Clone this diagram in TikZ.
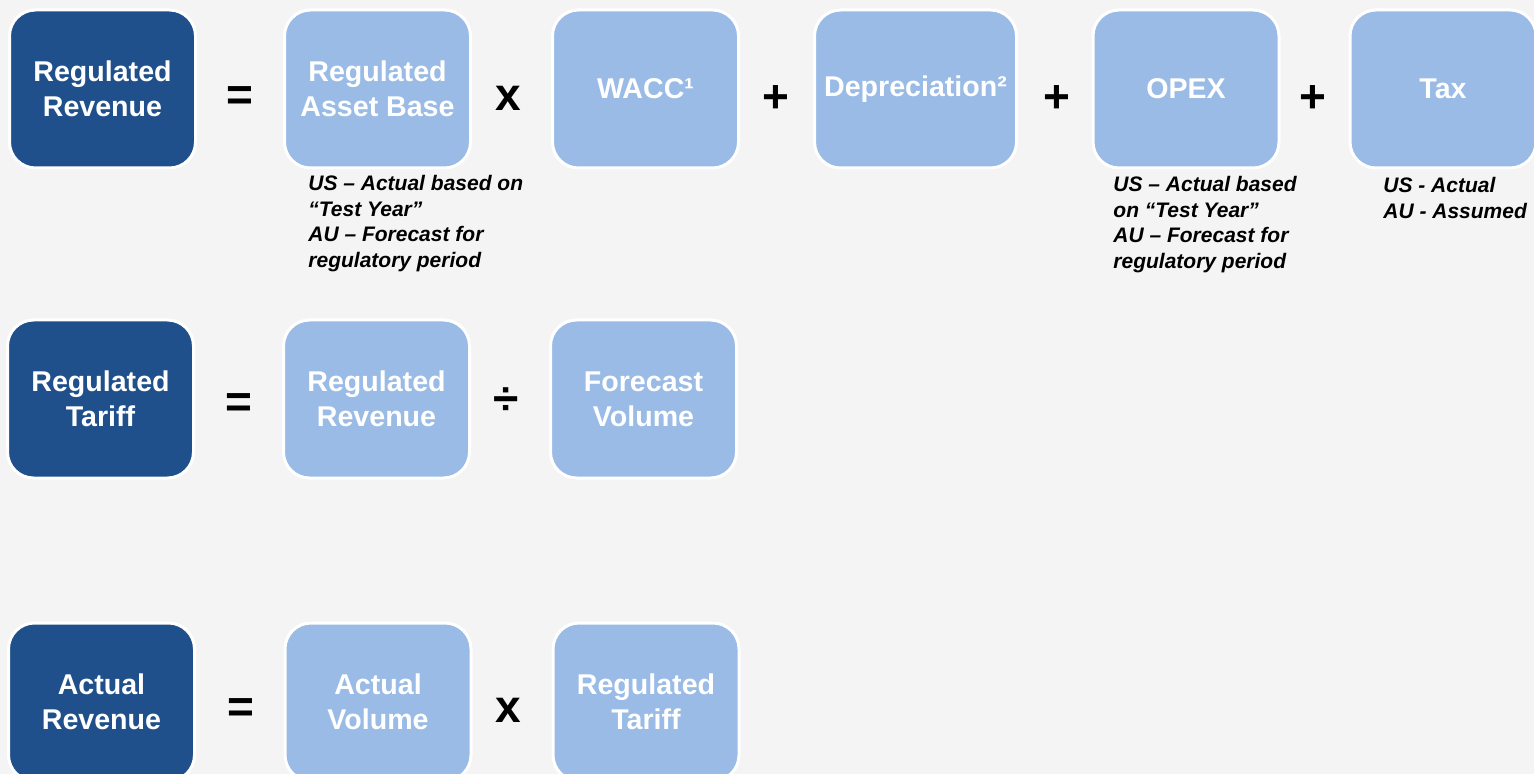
\documentclass[tikz,border=0pt]{standalone}
\usepackage{fontspec}
\setmainfont{Liberation Sans}
\usepackage{tikz}
\definecolor{pagebg}{RGB}{244,244,244}
\definecolor{resultbox}{RGB}{32,80,139}
\definecolor{termbox}{RGB}{153,187,229}

\begin{document}
\begin{tikzpicture}[x=0.5pt, y=-0.5pt,
  box/.style={draw=white, line width=1.5pt, rounded corners=13pt, minimum width=93pt,
    minimum height=79pt, inner sep=0pt, align=center, text=white,
    font=\fontsize{14.3}{17.5}\selectfont\bfseries},
  result/.style={box, fill=resultbox},
  term/.style={box, fill=termbox},
  op/.style={inner sep=0pt, font=\fontsize{23}{23}\selectfont\bfseries},
  note/.style={anchor=north west, align=left, inner sep=0pt,
    font=\fontsize{10.5}{12.75}\selectfont\bfseries\itshape}]
\useasboundingbox (0,0) rectangle (1534,774);
\fill[pagebg] (0,0) rectangle (1534,774);
\clip (0,0) rectangle (1534,774);

% revenue build-up
\node[result] (regrev) at (102.5,89) {Regulated\\Revenue};
\node[term] (rab) at (377.5,89) {Regulated\\Asset Base};
\node[term] (wacc) at (645.5,89) {WACC¹};
\node[term, minimum width=101pt] (depr) at (915.5,89) {Depreciation²};
\node[term] (opex) at (1186,89) {OPEX};
\node[term] (tax) at (1443,89) {Tax};
\node[note] (rabnote) at (308,175) {US – Actual based on\\“Test Year”\\AU – Forecast for\\regulatory period};
\node[note] (opexnote) at (1113,176) {US – Actual based\\on “Test Year”\\AU – Forecast for\\regulatory period};
\node[note] (taxnote) at (1383,177) {US - Actual\\AU - Assumed};

% tariff
\node[result] (regtariff) at (100.5,399) {Regulated\\Tariff};
\node[term] (regrevin) at (376.5,399) {Regulated\\Revenue};
\node[term] (fcvol) at (643.5,399) {Forecast\\Volume};

% actual revenue
\node[result] (actrev) at (101.5,702) {Actual\\Revenue};
\node[term] (actvol) at (378,702) {Actual\\Volume};
\node[term] (tariffin) at (646,702) {Regulated\\Tariff};

\foreach \n/\x/\y/\s in {eqa/240/99/=, mula/508/98/x, plusa/776/99/+, plusb/1057/99/+,
  plusc/1313/99/+, eqb/238.5/406/=, divb/506.5/401/÷, eqc/241/711/=, mulc/508/710/x} {
  \node[op] (\n) at (\x,\y) {\s};
}
\end{tikzpicture}
\end{document}
